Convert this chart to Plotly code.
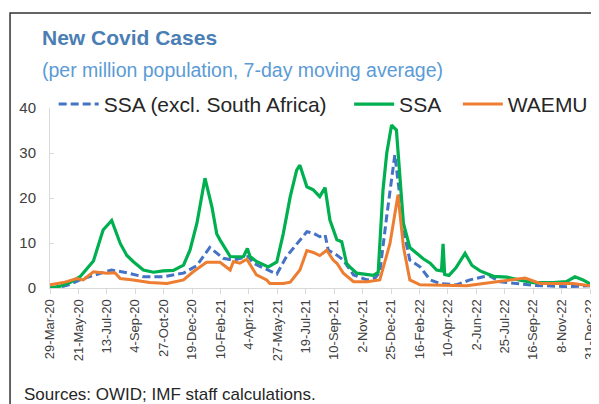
import plotly.graph_objects as go

# ---------------- data ----------------
ssa_dates = ["2020-03-29","2020-04-17","2020-05-05","2020-05-24","2020-06-18","2020-07-06","2020-07-22",
             "2020-08-07","2020-08-19","2020-08-31","2020-09-19","2020-10-08","2020-10-26","2020-11-14",
             "2020-12-03","2020-12-15","2020-12-28","2021-01-06","2021-01-12","2021-01-25","2021-02-03",
             "2021-02-09","2021-02-28","2021-03-18","2021-03-25","2021-04-01","2021-04-06","2021-04-18",
             "2021-05-10","2021-05-26","2021-06-07","2021-06-20","2021-07-02","2021-07-08","2021-07-21",
             "2021-08-02","2021-08-14","2021-08-24","2021-09-02","2021-09-15","2021-09-24","2021-10-03",
             "2021-10-09","2021-10-22","2021-11-10","2021-11-22","2021-12-01","2021-12-07","2021-12-10",
             "2021-12-17","2021-12-26","2022-01-04","2022-01-11","2022-01-17","2022-01-29","2022-02-11",
             "2022-02-23","2022-03-08","2022-03-20","2022-03-29","2022-04-01","2022-04-04","2022-04-12",
             "2022-04-25","2022-05-12","2022-05-25","2022-06-09","2022-07-04","2022-07-29","2022-08-20",
             "2022-09-16","2022-10-23","2022-11-17","2022-12-03","2022-12-18","2022-12-31"]
ssa_vals = [0.0,0.4,1.2,2.5,6.0,12.9,15.0,
            9.9,7.3,5.9,4.0,3.5,3.8,3.9,
            5.1,8.4,14.4,20.3,24.4,18.0,12.0,
            10.7,7.0,6.9,7.0,8.8,7.0,5.9,
            4.7,5.8,12.1,20.3,26.2,27.3,22.5,
            21.8,20.3,22.3,15.1,10.7,10.3,5.5,
            4.7,3.3,3.1,2.8,3.5,15.0,21.8,
            30.0,36.2,35.1,24.7,14.4,9.0,7.7,
            6.5,5.5,4.0,3.8,9.8,3.0,2.8,
            4.5,7.7,5.0,3.8,2.6,2.4,1.8,
            1.2,1.2,1.4,2.5,1.8,0.9]

excl_dates = ["2020-03-29","2020-04-17","2020-05-05","2020-05-24","2020-06-18","2020-07-13","2020-07-22",
              "2020-07-31","2020-08-19","2020-09-19","2020-10-26","2020-12-03","2020-12-28","2021-01-21",
              "2021-02-03","2021-02-15","2021-03-06","2021-04-03","2021-04-12","2021-05-01","2021-05-26",
              "2021-06-13","2021-07-08","2021-07-21","2021-08-02","2021-08-14","2021-08-24","2021-08-30",
              "2021-09-15","2021-09-27","2021-10-16","2021-11-10","2021-11-25","2021-12-04","2021-12-17",
              "2022-01-01","2022-01-09","2022-01-17","2022-01-29","2022-02-17","2022-03-08","2022-03-26",
              "2022-04-26","2022-05-21","2022-06-15","2022-06-27","2022-07-16","2022-08-20","2022-09-16",
              "2022-11-17","2022-12-25","2022-12-31"]
excl_vals = [0.0,0.2,0.8,1.8,2.8,3.6,4.0,
             3.8,3.4,2.5,2.5,3.3,5.0,9.0,
             7.7,6.6,6.2,7.0,5.5,4.4,3.1,
             7.0,10.5,12.5,12.2,11.4,11.8,8.4,
             7.3,6.2,2.9,1.8,2.2,3.5,16.0,
             29.6,21.8,12.9,6.2,4.7,1.8,1.0,
             0.7,1.8,2.5,2.7,1.4,1.0,0.6,
             0.3,0.6,0.5]

waemu_dates = ["2020-03-29","2020-04-23","2020-05-18","2020-05-30","2020-06-18","2020-07-13","2020-07-28",
               "2020-08-07","2020-08-31","2020-10-01","2020-11-02","2020-12-03","2020-12-21","2021-01-15",
               "2021-02-09","2021-02-28","2021-03-06","2021-03-18","2021-03-31","2021-04-12","2021-04-18",
               "2021-05-07","2021-05-13","2021-06-07","2021-06-20","2021-07-08","2021-07-21","2021-08-02",
               "2021-08-14","2021-08-27","2021-09-08","2021-09-15","2021-09-27","2021-10-16","2021-11-10",
               "2021-12-04","2021-12-23","2022-01-07","2022-01-17","2022-01-29","2022-02-17","2022-05-15",
               "2022-07-10","2022-09-01","2022-09-29","2022-11-29","2022-12-31"]
waemu_vals = [0.7,1.2,2.1,1.8,3.6,3.3,3.4,
              2.1,1.8,1.2,1.0,1.8,3.6,5.7,
              5.7,4.0,5.9,5.5,6.4,4.0,2.9,
              1.8,1.0,1.0,1.3,4.0,8.3,7.9,
              7.2,8.4,6.2,5.5,3.3,1.4,1.4,
              1.8,9.9,20.7,9.2,1.8,0.7,0.5,
              1.4,2.2,1.0,1.0,0.5]

tick_dates = ["2020-03-29","2020-05-21","2020-07-13","2020-09-04","2020-10-27","2020-12-19","2021-02-10",
              "2021-04-04","2021-05-27","2021-07-19","2021-09-10","2021-11-02","2021-12-25","2022-02-16",
              "2022-04-10","2022-06-02","2022-07-25","2022-09-16","2022-11-08","2022-12-31"]
tick_text = ["29-Mar-20","21-May-20","13-Jul-20","4-Sep-20","27-Oct-20","19-Dec-20","10-Feb-21",
             "4-Apr-21","27-May-21","19-Jul-21","10-Sep-21","2-Nov-21","25-Dec-21","16-Feb-22",
             "10-Apr-22","2-Jun-22","25-Jul-22","16-Sep-22","8-Nov-22","31-Dec-22"]

FONT = "Liberation Sans"
NB = "\u00a0"

fig = go.Figure()
fig.add_trace(go.Scatter(x=excl_dates, y=excl_vals, mode="lines", name="SSA (excl. South Africa)" + NB * 3,
                         line=dict(color="#4472c4", width=3, dash="8px,4px")))
fig.add_trace(go.Scatter(x=ssa_dates, y=ssa_vals, mode="lines", name="SSA" + NB * 2,
                         line=dict(color="#00b050", width=3.2)))
fig.add_trace(go.Scatter(x=waemu_dates, y=waemu_vals, mode="lines", name="WAEMU",
                         line=dict(color="#ed7d31", width=3)))

# page body has an 8px offset, so the figure is drawn 8px smaller
fig.update_layout(
    width=591, height=396,
    margin=dict(l=42, r=9, t=100, b=116, autoexpand=False),
    paper_bgcolor="white", plot_bgcolor="white",
    font=dict(family=FONT, color="#404040"),
    showlegend=True,
    legend=dict(orientation="h", xref="container", x=0.0773, y=1.02, xanchor="left", yanchor="middle",
                font=dict(size=21, color="#262626"), bgcolor="rgba(0,0,0,0)",
                itemwidth=40, tracegroupgap=0),
    xaxis=dict(type="date", range=["2020-03-29", "2022-12-31"], tickvals=tick_dates, ticktext=tick_text,
               tickangle=-90, tickfont=dict(size=13, color="#404040"), showline=True,
               linecolor="#d9d9d9", linewidth=1, ticks="outside", ticklen=5, tickcolor="#d9d9d9",
               showgrid=False, zeroline=False),
    yaxis=dict(range=[0, 40], tickvals=[0, 10, 20, 30, 40], tickfont=dict(size=15, color="#404040"),
               showline=True, linecolor="#d9d9d9", linewidth=1, ticks="inside", ticklen=4,
               tickcolor="#d9d9d9", showgrid=False, zeroline=False, ticklabelstandoff=10),
)

# frame
fig.add_shape(type="rect", xref="paper", yref="paper", x0=-0.074, x1=1.05, y0=-0.75, y1=1.528,
              line=dict(color="#333333", width=1.5), layer="below")

fig.add_annotation(text="<b>New Covid Cases</b>", xref="paper", yref="paper", x=-0.0185, y=1.389,
                   xanchor="left", yanchor="middle", showarrow=False,
                   font=dict(size=21, color="#4a7eb4", family=FONT))
fig.add_annotation(text="(per million population, 7-day moving average)", xref="paper", yref="paper",
                   x=-0.0185, y=1.211, xanchor="left", yanchor="middle", showarrow=False,
                   font=dict(size=19.5, color="#5b9bd5", family=FONT))
fig.add_annotation(text="Sources: OWID; IMF staff calculations.", xref="paper", yref="paper",
                   x=-0.052, y=-0.589, xanchor="left", yanchor="middle", showarrow=False,
                   font=dict(size=17, color="#262626", family=FONT))

fig.write_html("out.html")
